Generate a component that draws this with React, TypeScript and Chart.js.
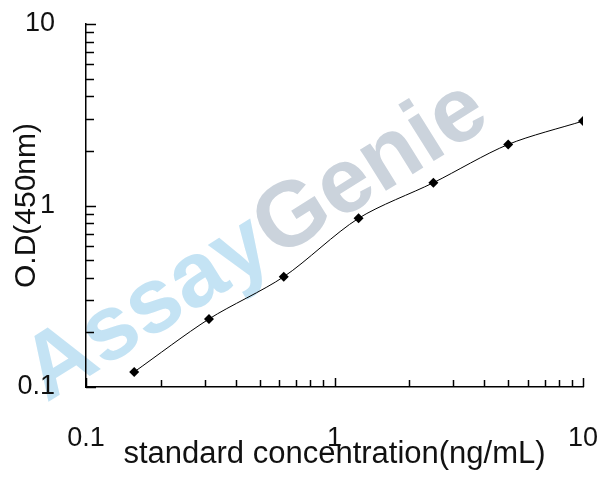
import React, { useEffect, useRef } from 'react';
import { Chart, registerables } from 'chart.js';

Chart.register(...registerables);

const concentrations = [0.15625, 0.3125, 0.625, 1.25, 2.5, 5, 10];
const odValues = [0.121, 0.237, 0.405, 0.85, 1.335, 2.17, 2.92];
const xTickLabels = [0.1, 1, 10];
const yTickLabels = [0.1, 1, 10];
const xTitle = 'standard concentration(ng/mL)';
const yTitle = 'O.D(450nm)';
const watermarkParts = ['Assay', 'Genie'];
const watermarkColors = ['#c4e3f4', '#cbd3dc'];

const FONT = '"Liberation Sans", Arial, sans-serif';

const isLabelled = (v: number, list: number[]) =>
  list.some((l) => Math.abs(v - l) / l < 1e-6);

const minorValues = (min: number, max: number) => {
  const out: number[] = [];
  for (let e = Math.floor(Math.log10(min)); e <= Math.ceil(Math.log10(max)); e++) {
    for (let k = 1; k <= 9; k++) {
      const v = k * Math.pow(10, e);
      if (v >= min * (1 - 1e-9) && v <= max * (1 + 1e-9)) out.push(v);
    }
  }
  return out;
};

const watermarkPlugin = {
  id: 'watermark',
  beforeDraw(chart: any) {
    const ctx = chart.ctx;
    ctx.save();
    ctx.font = `bold 92px ${FONT}`;
    const widths = watermarkParts.map((p) => ctx.measureText(p).width);
    const total = widths.reduce((a, b) => a + b, 0);
    ctx.translate(254, 238);
    ctx.rotate((-32 * Math.PI) / 180);
    ctx.textBaseline = 'alphabetic';
    ctx.textAlign = 'left';
    let x = -total / 2;
    watermarkParts.forEach((p, i) => {
      ctx.fillStyle = watermarkColors[i];
      ctx.fillText(p, x, 30);
      x += widths[i];
    });
    ctx.restore();
  },
};

const inwardTicksPlugin = {
  id: 'inwardTicks',
  afterDraw(chart: any) {
    const ctx = chart.ctx;
    const xs = chart.scales.x;
    const ys = chart.scales.y;
    const area = chart.chartArea;
    ctx.save();
    ctx.strokeStyle = '#000';
    ctx.lineWidth = 1.5;
    minorValues(xs.min, xs.max).forEach((v) => {
      const px = Math.round(xs.getPixelForValue(v)) + 0.5;
      const len = isLabelled(v, xTickLabels) ? 9 : 7;
      ctx.beginPath();
      ctx.moveTo(px, area.bottom);
      ctx.lineTo(px, area.bottom - len);
      ctx.stroke();
    });
    minorValues(ys.min, ys.max).forEach((v) => {
      const py = Math.round(ys.getPixelForValue(v)) + 0.5;
      const len = isLabelled(v, yTickLabels) ? 10 : 8;
      ctx.beginPath();
      ctx.moveTo(area.left, py);
      ctx.lineTo(area.left + len, py);
      ctx.stroke();
    });
    ctx.restore();
  },
};

export default function App() {
  const canvasRef = useRef<HTMLCanvasElement | null>(null);

  useEffect(() => {
    document.body.style.margin = '0';
    const canvas = canvasRef.current;
    if (!canvas) return;
    const chart = new Chart(canvas, {
      type: 'scatter',
      data: {
        datasets: [
          {
            data: concentrations.map((x, i) => ({ x, y: odValues[i] })),
            showLine: true,
            borderColor: '#000',
            borderWidth: 1,
            backgroundColor: '#000',
            pointStyle: 'rectRot',
            pointRadius: 5,
            pointBorderWidth: 0,
            tension: 0.3,
          },
        ],
      },
      options: {
        animation: false,
        responsive: false,
        devicePixelRatio: 1,
        layout: { padding: { top: 24, right: 25, left: 0, bottom: 0 } },
        plugins: {
          legend: { display: false },
          tooltip: { enabled: false },
        },
        scales: {
          x: {
            type: 'logarithmic',
            position: 'bottom',
            min: 0.1,
            max: 10,
            afterFit(scale: any) {
              scale.height = 110;
            },
            grid: {
              display: true,
              drawOnChartArea: false,
              drawTicks: true,
              tickLength: 35,
              color: 'rgba(0,0,0,0)',
              tickColor: 'rgba(0,0,0,0)',
            },
            border: { display: true, color: '#000', width: 1.5 },
            ticks: {
              autoSkip: false,
              maxRotation: 0,
              minRotation: 0,
              padding: 0,
              color: '#111',
              font: { family: FONT, size: 27 },
              callback: (v: any) => (isLabelled(Number(v), xTickLabels) ? String(Number(v)) : ''),
            },
            title: {
              display: true,
              text: xTitle,
              color: '#111',
              font: { family: FONT, size: 31 },
              padding: { top: 0, bottom: 24 },
            },
          },
          y: {
            type: 'logarithmic',
            position: 'left',
            min: 0.1,
            max: 10,
            afterFit(scale: any) {
              scale.width = 86;
            },
            grid: {
              display: true,
              drawOnChartArea: false,
              drawTicks: true,
              tickLength: 31,
              color: 'rgba(0,0,0,0)',
              tickColor: 'rgba(0,0,0,0)',
            },
            border: { display: true, color: '#000', width: 1.5 },
            ticks: {
              autoSkip: false,
              padding: 0,
              color: '#111',
              font: { family: FONT, size: 27 },
              callback: (v: any) => (isLabelled(Number(v), yTickLabels) ? String(Number(v)) : ''),
            },
            title: {
              display: true,
              text: yTitle,
              color: '#111',
              font: { family: FONT, size: 30 },
              padding: { top: 9, bottom: 0 },
            },
          },
        },
      },
      plugins: [watermarkPlugin, inwardTicksPlugin],
    } as any);
    return () => chart.destroy();
  }, []);

  return (
    <div style={{ position: 'absolute', left: 0, top: 0, width: 608, height: 497, background: '#fff' }}>
      <canvas ref={canvasRef} width={608} height={497} />
    </div>
  );
}
